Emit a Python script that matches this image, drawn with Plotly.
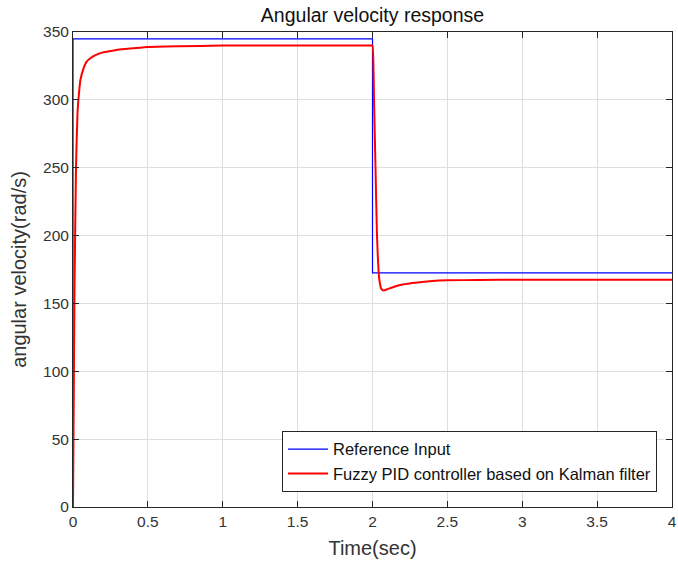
import plotly.graph_objects as go

# Reference input (step signal)
ref_t = [0, 0, 2, 2, 4]
ref_v = [0, 345, 345, 172.5, 172.5]

# Fuzzy PID controller based on Kalman filter response
pid_t = [0, 0.005, 0.01, 0.02, 0.03, 0.04, 0.05, 0.07, 0.09, 0.12, 0.15, 0.2, 0.25,
         0.3, 0.4, 0.5, 0.7, 1.0, 1.5, 1.99, 2.0, 2.01, 2.02, 2.03, 2.045, 2.06, 2.075,
         2.1, 2.15, 2.2, 2.3, 2.4, 2.5, 2.7, 3.0, 3.5, 4.0]
pid_v = [0, 80, 160, 250, 290, 305, 315, 323, 328, 331, 333, 335, 336,
         337, 338, 339, 339.5, 340, 340, 340, 340, 300, 250, 200, 168, 160.5, 159.5,
         160.5, 162.5, 164, 165.5, 166.5, 167, 167.3, 167.5, 167.5, 167.5]

x_ticks = [0, 0.5, 1, 1.5, 2, 2.5, 3, 3.5, 4]
x_labels = ["0", "0.5", "1", "1.5", "2", "2.5", "3", "3.5", "4"]
y_ticks = [0, 50, 100, 150, 200, 250, 300, 350]
y_labels = ["0", "50", "100", "150", "200", "250", "300", "350"]

fig = go.Figure()
fig.add_trace(go.Scatter(x=ref_t, y=ref_v, mode="lines", name="Reference Input",
                         line=dict(color="#0000ff", width=1.2)))
fig.add_trace(go.Scatter(x=pid_t, y=pid_v, mode="lines",
                         name="Fuzzy PID controller based on Kalman filter",
                         line=dict(color="#ff0000", width=2, shape="spline", smoothing=0.4)))

font_family = "Liberation Sans, Arial, sans-serif"
axis_common = dict(showgrid=True, gridcolor="#dedede", gridwidth=1,
                   showline=True, linecolor="#262626", linewidth=1, mirror="ticks",
                   ticks="inside", ticklen=6, tickcolor="#262626", zeroline=False,
                   automargin=False,
                   tickfont=dict(size=15.5, color="#333333", family=font_family))

fig.update_layout(
    width=678, height=565,
    paper_bgcolor="white", plot_bgcolor="white",
    margin=dict(l=73, r=6, t=32, b=58, autoexpand=False),
    title=dict(text="Angular velocity response", xref="paper", x=0.5, xanchor="center",
               y=1 - 15 / 565, yanchor="middle",
               font=dict(size=19.5, color="#111111", family=font_family)),
    font=dict(family=font_family, color="#262626"),
    xaxis=dict(range=[0, 4], tickvals=x_ticks, ticktext=x_labels,
               title=dict(text="Time(sec)", font=dict(size=20, color="#333333"), standoff=12),
               **axis_common),
    yaxis=dict(range=[0, 350], tickvals=y_ticks, ticktext=y_labels,
               title=dict(text="angular velocity(rad/s)", font=dict(size=20, color="#333333"), standoff=11),
               **axis_common),
    legend=dict(x=0.975, xanchor="right", y=0.032, yanchor="bottom",
                bgcolor="white", bordercolor="#262626", borderwidth=1,
                font=dict(size=16.5, color="#111111", family=font_family),
                tracegroupgap=0, itemwidth=40),
    showlegend=True,
)

fig.write_html("out.html", config={"displayModeBar": False},
               post_script="document.body.style.margin='0';document.body.style.padding='0';")
